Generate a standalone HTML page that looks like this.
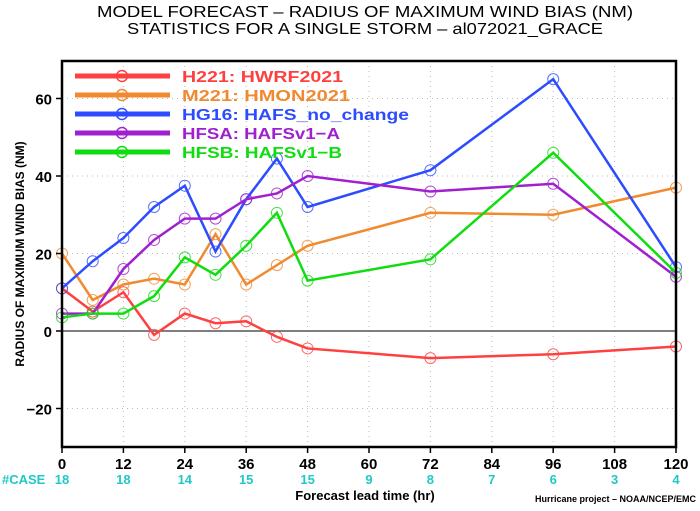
<!DOCTYPE html>
<html><head><meta charset="utf-8"><style>
body{margin:0;background:#fff;}
svg text{font-family:"Liberation Sans",sans-serif;font-weight:bold;}
</style></head><body>
<svg id="chart" width="700" height="506" xmlns="http://www.w3.org/2000/svg">
<text x="97" y="17" textLength="536" lengthAdjust="spacingAndGlyphs" font-size="16" fill="#000" style="font-weight:normal">MODEL FORECAST – RADIUS OF MAXIMUM WIND BIAS (NM)</text>
<text x="127" y="34" textLength="476" lengthAdjust="spacingAndGlyphs" font-size="16" fill="#000" style="font-weight:normal">STATISTICS FOR A SINGLE STORM – al072021_GRACE</text>
<g id="grid"></g>
<line id="zl" stroke="#555" stroke-width="1.5"/>
<g id="series"></g>
<rect x="62" y="61" width="614" height="386" fill="none" stroke="#000" stroke-width="2.5"/>
<g id="axes"></g>
<text transform="translate(24,254) rotate(-90)" text-anchor="middle" font-size="12" fill="#000">RADIUS OF MAXIMUM WIND BIAS (NM)</text>
<text x="365" y="500" text-anchor="middle" font-size="13" fill="#000">Forecast lead time (hr)</text>
<text x="2" y="484" font-size="13" fill="#20c8c8">#CASE</text>
<text x="696" y="502" text-anchor="end" font-size="9" fill="#000" font-weight="normal">Hurricane project – NOAA/NCEP/EMC</text>
<g id="legend"></g>
</svg>
<script>
const hours=[0,6,12,18,24,30,36,42,48,72,96,120];
const xTicks=[0,12,24,36,48,60,72,84,96,108,120];
const yTicks=[-20,0,20,40,60];
const caseHours=[0,12,24,36,48,60,72,84,96,108,120];
const caseCounts=[18,18,14,15,15,9,8,7,6,3,4];
const names=["H221:  HWRF2021","M221:  HMON2021","HG16:  HAFS_no_change","HFSA:  HAFSv1−A","HFSB:  HAFSv1−B"];
const legendLens=[161,168,227,158,160];
const colors=["#ff4040","#f08a30","#2e4cff","#a020d0","#10dd10"];
const h221=[11,5,10,-1,4.5,2,2.5,-1.5,-4.5,-7,-6,-4];
const m221=[20,8,12,13.5,12,25,12,17,22,30.5,30,37];
const hg16=[11,18,24,32,37.5,20.5,34,44.5,32,41.5,65,16.5];
const hfsa=[4.5,4.5,16,23.5,29,29,34,35.5,40,36,38,14];
const hfsb=[3.5,4.5,4.5,9,19,14.5,22,30.5,13,18.5,46,15];
const seriesData=[h221,m221,hg16,hfsa,hfsb];
const X=h=>62+h*614/120, Y=v=>331-v*3.875;
const NS="http://www.w3.org/2000/svg";
function mk(t,a,p){const e=document.createElementNS(NS,t);for(const k in a)e.setAttribute(k,a[k]);p.appendChild(e);return e;}
const grid=document.getElementById('grid'),axes=document.getElementById('axes'),ser=document.getElementById('series'),leg=document.getElementById('legend');
const zl=document.getElementById('zl');zl.setAttribute('x1',62);zl.setAttribute('x2',676);zl.setAttribute('y1',Y(0));zl.setAttribute('y2',Y(0));
xTicks.forEach(h=>{
 const g=mk('line',{x1:X(h),x2:X(h),y1:61,y2:447,stroke:'#bbb','stroke-dasharray':'1,4'},grid);
 
 
 const t=mk('line',{x1:X(h),x2:X(h),y1:447,y2:453,stroke:'#000','stroke-width':1.5},axes);
 
 
 const l=mk('text',{x:X(h),y:469,'text-anchor':'middle','font-size':15,fill:'#000'},axes);l.textContent=h;
 
 
});
yTicks.forEach(v=>{
 const g=mk('line',{x1:62,x2:676,y1:Y(v),y2:Y(v),stroke:'#bbb','stroke-dasharray':'1,4'},grid);
 
 
 const t=mk('line',{x1:56,x2:62,y1:Y(v),y2:Y(v),stroke:'#000','stroke-width':1.5},axes);
 
 
 const l=mk('text',{x:52,y:Y(v)+6,'text-anchor':'end','font-size':15,fill:'#000'},axes);l.textContent=v<0?'−'+(-v):v;
 
 
});
caseHours.forEach((h,i)=>{
 const l=mk('text',{x:X(h),y:484,'text-anchor':'middle','font-size':13,fill:'#20c8c8'},axes);l.textContent=caseCounts[i];
 
 
});
seriesData.forEach((d,s)=>{
 const pl=mk('polyline',{points:d.map((v,i)=>X(hours[i])+','+Y(v)).join(' '),fill:'none',stroke:colors[s],'stroke-width':2.5},ser);
 
 
 d.forEach((v,i)=>{
  const c=mk('circle',{cx:X(hours[i]),cy:Y(v),r:5.5,fill:'none',stroke:colors[s],'stroke-width':1,opacity:0.8},ser);
  
  
 });
 const ly=76+s*19;
 const ll=mk('line',{x1:75,x2:170,y1:ly,y2:ly,stroke:colors[s],'stroke-width':5},leg);
 
 
 const lc=mk('circle',{cx:122,cy:ly,r:5.5,fill:'none',stroke:colors[s],'stroke-width':1.5},leg);
 
 
 const lt=mk('text',{x:182,y:ly+6,'font-size':16,fill:colors[s],textLength:legendLens[s],lengthAdjust:'spacingAndGlyphs'},leg);lt.textContent=names[s];
 
 
});
</script>
</body></html>
